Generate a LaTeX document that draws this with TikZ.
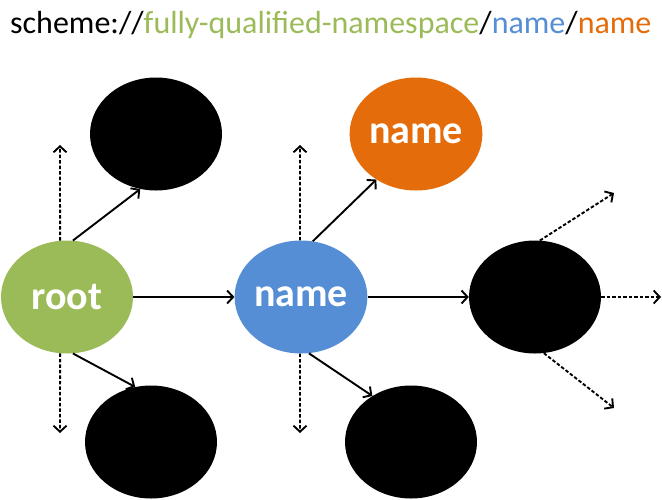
\documentclass[tikz,border=0pt]{standalone}
\usepackage{fontspec}
\setmainfont{Carlito}
\usetikzlibrary{arrows.meta,shapes.geometric}
\definecolor{rootgreen}{HTML}{9BBB59}
\definecolor{nameblue}{HTML}{558ED5}
\definecolor{leaforange}{HTML}{E46C0A}
\tikzset{
  ns/.style={ellipse, minimum width=132pt, minimum height=113pt, inner sep=0pt,
    text=white, font=\fontsize{40}{42}\selectfont\bfseries},
  link/.style={line width=1.9pt, -{Straight Barb[length=6pt,width=13pt]}},
  open/.style={link, dash pattern=on 3.5pt off 2pt},
}

\begin{document}
\begin{tikzpicture}[x=1pt,y=-1pt]
    \useasboundingbox (0,0) rectangle (662,499);
    % uri line
    \node[anchor=base west, inner sep=0pt, font=\fontsize{32}{34}\selectfont] (uri) at (10,33)
      {scheme://\textcolor{rootgreen}{fully-qualified-namespace}/\textcolor{nameblue}{name}/\textcolor{leaforange}{name}};

    \node[ns, fill=rootgreen] (root) at (67,297) {root};
    \node[ns, fill=nameblue] (name1) at (301,297) {name};
    \node[ns, fill=leaforange] (name2) at (416,134) {name};
    \node[ns, fill=black] (up1) at (156,134) {};
    \node[ns, fill=black] (down1) at (151,442) {};
    \node[ns, fill=black] (down2) at (411,442) {};
    \node[ns, fill=black] (next) at (535,297) {};

    % free ends
    \coordinate (rootup) at (60,145);
    \coordinate (rootdown) at (60,433);
    \coordinate (nameup) at (300,145);
    \coordinate (namedown) at (300,433);
    \coordinate (nextup) at (614,193);
    \coordinate (nextright) at (661,297);
    \coordinate (nextdown) at (614,408);

    \draw[link] (root.84) -- (up1.254);
    \draw[link] (root.east) -- (name1.west);
    \draw[link] (root.-84) -- (down1.106);
    \draw[link] (name1.78) -- (name2.229);
    \draw[link] (name1.east) -- (next.west);
    \draw[link] (name1.-82) -- (down2.130);

    \draw[open] (root.97) -- (rootup);
    \draw[open] (root.-97) -- (rootdown);
    \draw[open] (name1.91) -- (nameup);
    \draw[open] (name1.-91) -- (namedown);
    \draw[open] (next.85) -- (nextup);
    \draw[open] (next.east) -- (nextright);
    \draw[open] (next.-81) -- (nextdown);
\end{tikzpicture}
\end{document}
